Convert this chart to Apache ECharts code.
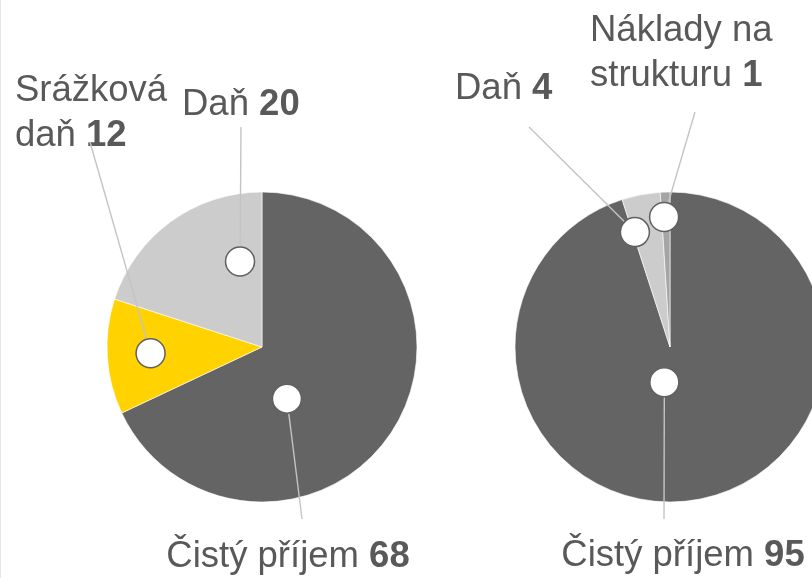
<!DOCTYPE html>
<html><head><meta charset="utf-8">
<script src="https://cdn.jsdelivr.net/npm/echarts@6/dist/echarts.min.js"></script>
<style>html,body{margin:0;padding:0;background:#fff}#c{width:812px;height:578px}</style>
</head><body><div id="c"></div>
<script>
// ---- data ----
const leftCategories = ['Čistý příjem', 'Srážková\ndaň', 'Daň'];
const leftValues = [68, 12, 20];
const rightCategories = ['Čistý příjem', 'Daň', 'Náklady na\nstrukturu'];
const rightValues = [95, 4, 1];

// ---- styles / layout ----
const leftColors = ['#646464', '#FFD200', '#CCCCCC'];
const rightColors = ['#646464', '#CCCCCC', '#A5A5A5'];
const TEXT = '#595959';
const FONT = '"Liberation Sans", Arial, sans-serif';
const FS = 36.5;
const R = 155;
const pies = [
  { center: [262, 347], names: leftCategories, values: leftValues, colors: leftColors,
    markers: [{ t: 0.63, rf: 0.37 }, { t: 0.51, rf: 0.72 }, { t: 0.8, rf: 0.57 }],
    labels: [
      { x: 288, y: 557, align: 'center', end: [302, 519] },
      { x: 15, y: 113, align: 'left', end: [90, 142] },
      { x: 182, y: 105, align: 'left', end: [241, 127] }
    ] },
  { center: [670, 347], names: rightCategories, values: rightValues, colors: rightColors,
    markers: [{ t: 0.553, rf: 0.23 }, { t: 0.07, rf: 0.775 }, { t: 0.28, rf: 0.84 }],
    labels: [
      { x: 683, y: 556, align: 'center', end: [664, 519] },
      { x: 455, y: 89, align: 'left', end: [529, 127] },
      { x: 590, y: 53, align: 'left', end: [695, 112] }
    ] }
];

function markerPoint(p, i) {
  const total = p.values.reduce((a, b) => a + b, 0);
  let cum = 0;
  for (let k = 0; k < i; k++) cum += p.values[k];
  const f = (cum + p.values[i] * p.markers[i].t) / total;
  const th = f * 2 * Math.PI;
  const d = R * p.markers[i].rf;
  return [p.center[0] + d * Math.sin(th), p.center[1] - d * Math.cos(th)];
}

const chart = echarts.init(document.getElementById('c'), null, { renderer: 'canvas' });
const series = pies.map((p, si) => ({
  type: 'pie',
  center: p.center,
  radius: R,
  startAngle: 90,
  clockwise: true,
  animation: false,
  silent: true,
  avoidLabelOverlap: false,
  emphasis: { disabled: true },
  itemStyle: { borderColor: '#ffffff', borderWidth: 0.6 },
  data: p.names.map((n, i) => ({ name: n, value: p.values[i], itemStyle: { color: p.colors[i] } })),
  label: {
    show: true,
    position: 'outside',
    color: TEXT,
    fontFamily: FONT,
    fontSize: FS,
    lineHeight: 45,
    formatter: q => '{n|' + q.name + '} {v|' + q.value + '}',
    rich: {
      n: { fontSize: FS, fontFamily: FONT, color: TEXT, lineHeight: 45 },
      v: { fontSize: FS, fontFamily: FONT, color: TEXT, fontWeight: 'bold', lineHeight: 45 }
    }
  },
  labelLine: { show: false },
  labelLayout: params => {
    const L = p.labels[params.dataIndex];
    return { x: L.x, y: L.y, align: L.align, verticalAlign: 'middle' };
  }
}));

const graphics = [{
  type: 'line', z: 1, shape: { x1: 0.5, y1: 0, x2: 0.5, y2: 578 },
  style: { stroke: '#E6E6E6', lineWidth: 1 }
}];
pies.forEach(p => p.values.forEach((v, i) => {
  const m = markerPoint(p, i);
  const e = p.labels[i].end;
  graphics.push({
    type: 'line', z: 99, silent: true, shape: { x1: m[0], y1: m[1], x2: e[0], y2: e[1] },
    style: { stroke: '#C4C4C4', lineWidth: 1.4 }
  });
  graphics.push({
    type: 'circle', z: 100, silent: true, shape: { cx: m[0], cy: m[1], r: 14.5 },
    style: { fill: '#ffffff', stroke: '#606060', lineWidth: 1.5 }
  });
}));

chart.setOption({
  backgroundColor: '#ffffff',
  animation: false,
  series: series,
  graphic: graphics
});
</script>
</body></html>
